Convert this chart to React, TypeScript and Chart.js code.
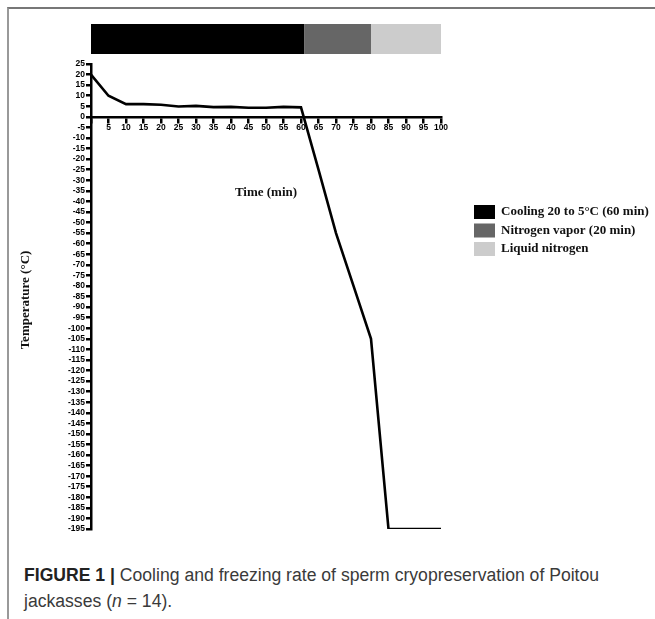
import React, { useEffect, useRef } from 'react';
import { Chart, registerables } from 'chart.js';

Chart.register(...registerables);

// Mean sample temperature during the freezing protocol
const timeMin = [0, 5, 10, 15, 20, 25, 30, 35, 40, 45, 50, 55, 60, 65, 70, 75, 80, 85, 90, 95, 100];
const temperatureC = [20, 10, 6, 6, 5.7, 4.9, 5.2, 4.6, 4.7, 4.3, 4.3, 4.7, 4.5, -25, -55, -80, -105, -195, -195, -195, -195];

// Protocol phases shown in the band above the plot
const phaseLabels = ['Cooling 20 to 5°C (60 min)', 'Nitrogen vapor (20 min)', 'Liquid nitrogen'];
const phaseStart = [0, 61, 80];
const phaseEnd = [61, 80, 100];
const phaseColors = ['#000000', '#666666', '#cccccc'];

// Axis ranges and tick spacing
const xMin = 0;
const xMax = 100;
const xStep = 5;
const yMin = -195;
const yMax = 25;
const yStep = 5;

const W = 655;
const H = 560;
const SERIF = '"Liberation Serif", "Times New Roman", serif';
const SANS = '"Liberation Sans", Arial, sans-serif';

const phasePlugin = {
  id: 'phaseBand',
  afterDraw(chart: any) {
    const { ctx, scales } = chart;
    const x = scales.x;
    ctx.save();
    // phase band above the plot
    for (let i = 0; i < phaseLabels.length; i++) {
      const x0 = x.getPixelForValue(phaseStart[i]);
      const x1 = x.getPixelForValue(phaseEnd[i]);
      ctx.fillStyle = phaseColors[i];
      ctx.fillRect(x0, 24, x1 - x0, 30);
    }
    // legend
    ctx.font = `bold 13px ${SERIF}`;
    ctx.textBaseline = 'middle';
    ctx.textAlign = 'left';
    for (let i = 0; i < phaseLabels.length; i++) {
      const top = 205 + i * 18.5;
      ctx.fillStyle = phaseColors[i];
      ctx.fillRect(474, top, 21, 14);
      ctx.fillStyle = '#111';
      ctx.fillText(phaseLabels[i], 501, top + 7);
    }
    // axis titles
    ctx.fillStyle = '#111';
    ctx.textAlign = 'center';
    ctx.fillText('Time (min)', 266, 193);
    ctx.translate(26, 300);
    ctx.rotate(-Math.PI / 2);
    ctx.fillText('Temperature (°C)', 0, 0);
    ctx.restore();
  },
};

function CoolingChart() {
  const ref = useRef<HTMLCanvasElement | null>(null);

  useEffect(() => {
    if (!ref.current) return;
    const chart = new Chart(ref.current, {
      type: 'line',
      data: {
        datasets: [
          {
            data: timeMin.map((t, i) => ({ x: t, y: temperatureC[i] })),
            borderColor: '#000',
            borderWidth: 2.6,
            pointRadius: 0,
            tension: 0,
            fill: false,
            // the trace is cut at the bottom edge of the plot area
            clip: { left: 6, right: 6, top: 6, bottom: 0 } as any,
          },
        ],
      },
      options: {
        animation: false,
        responsive: false,
        devicePixelRatio: 1,
        layout: { padding: { left: 0, top: 64, right: W - 441, bottom: H - 529 } },
        plugins: { legend: { display: false }, tooltip: { enabled: false } },
        scales: {
          x: {
            type: 'linear',
            position: { y: 0 } as any,
            min: xMin,
            max: xMax,
            grid: { drawOnChartArea: false, drawTicks: true, tickLength: 5, lineWidth: 2.5, color: '#000' },
            border: { display: true, width: 2.5, color: '#000' },
            ticks: {
              stepSize: xStep,
              autoSkip: false,
              maxRotation: 0,
              padding: 1,
              color: '#000',
              font: { family: SANS, size: 8.5, weight: 'bold' },
              callback: (v: any) => (v === 0 ? '' : String(v)),
            },
          },
          y: {
            type: 'linear',
            position: 'left',
            min: yMin,
            max: yMax,
            afterFit: (s: any) => {
              s.width = 91;
            },
            grid: { drawOnChartArea: false, drawTicks: true, tickLength: 5, lineWidth: 2.5, color: '#000' },
            border: { display: true, width: 2.5, color: '#000' },
            ticks: {
              stepSize: yStep,
              autoSkip: false,
              padding: 1,
              color: '#000',
              font: { family: SANS, size: 8.5, weight: 'bold' },
              callback: (v: any) => String(v),
            },
          },
        },
      },
      plugins: [phasePlugin],
    });
    return () => chart.destroy();
  }, []);

  return <canvas ref={ref} width={W} height={H} style={{ position: 'absolute', left: 0, top: 0, width: W, height: H }} />;
}

export default function App() {
  return (
    <div style={{ position: 'absolute', left: 0, top: 0, width: 655, height: 619, overflow: 'hidden', background: '#fff' }}>
      <div
        style={{
          position: 'absolute',
          left: 7,
          top: 7,
          width: 660,
          height: 620,
          borderTop: '2px solid #777',
          borderLeft: '2px solid #999',
        }}
      />
      <CoolingChart />
      <div
        style={{
          position: 'absolute',
          left: 24,
          top: 562,
          fontFamily: SANS,
          fontSize: 17.6,
          lineHeight: '26px',
          color: '#3a3a3a',
          whiteSpace: 'nowrap',
        }}
      >
        <b style={{ color: '#222' }}>FIGURE 1 |</b> Cooling and freezing rate of sperm cryopreservation of Poitou
        <br />
        jackasses (<i>n</i> = 14).
      </div>
    </div>
  );
}
